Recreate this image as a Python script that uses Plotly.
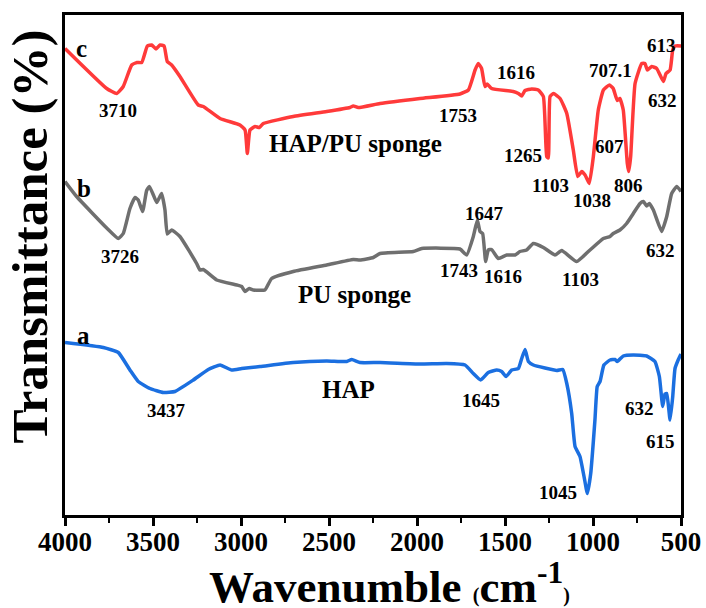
import plotly.graph_objects as go

# ---- data ----
# c: HAP/PU sponge
wn_c = [4000, 3763, 3706, 3669, 3621, 3591, 3564, 3532, 3507, 3483, 3460, 3437, 3419, 3394, 3347,
        3243, 3214, 3119, 3006, 2977, 2964, 2949, 2920, 2896, 2873, 2703, 2513, 2381, 2362, 2334,
        2210, 1983, 1756, 1708, 1670, 1652, 1633, 1614, 1601, 1576, 1453, 1424, 1405, 1386, 1348,
        1311, 1282, 1263, 1254, 1244, 1225, 1187, 1149, 1112, 1087, 1064, 1045, 1021, 998, 970,
        941, 907, 885, 862, 847, 828, 805, 797, 786, 761, 723, 705, 691, 667, 638, 600, 585, 562,
        547, 534, 500]
t_c = [93.3, 85.3, 84.3, 85.7, 90.0, 90.5, 90.5, 93.8, 94.0, 93.2, 94.0, 93.8, 90.7, 90.0, 87.7,
       82.0, 81.7, 79.3, 78.0, 77.0, 72.3, 77.0, 77.7, 77.5, 78.3, 79.7, 80.7, 81.5, 81.8, 81.5,
       82.3, 83.3, 84.2, 85.0, 89.0, 90.3, 89.3, 85.7, 86.2, 85.3, 84.7, 84.3, 83.8, 84.9, 85.2,
       85.0, 83.7, 71.7, 71.4, 83.7, 84.3, 83.3, 80.3, 73.0, 67.7, 68.7, 68.0, 66.3, 71.7, 81.0,
       85.0, 86.0, 85.3, 82.9, 83.3, 81.0, 70.3, 68.7, 71.7, 86.3, 90.3, 90.3, 89.0, 89.7, 89.3,
       86.7, 88.3, 89.0, 93.0, 93.8, 93.8]

# b: PU sponge
wn_b = [4000, 3934, 3763, 3697, 3669, 3631, 3602, 3584, 3559, 3536, 3521, 3498, 3479, 3451, 3432,
        3419, 3394, 3347, 3252, 3233, 3214, 3138, 3024, 2996, 2977, 2953, 2930, 2864, 2826, 2703,
        2513, 2362, 2324, 2248, 2210, 2021, 1973, 1756, 1718, 1680, 1657, 1642, 1627, 1610, 1595,
        1576, 1538, 1490, 1443, 1415, 1377, 1339, 1282, 1216, 1178, 1093, 1017, 941, 903, 885,
        847, 809, 771, 733, 714, 695, 680, 657, 610, 581, 553, 524, 500]
t_b = [66.7, 63.7, 57.4, 55.3, 56.3, 61.3, 63.5, 63.0, 60.7, 64.9, 65.7, 64.0, 62.5, 64.3, 61.0,
       56.2, 57.0, 55.7, 50.3, 49.0, 49.1, 47.0, 46.0, 45.7, 44.7, 45.3, 45.0, 45.0, 47.3, 48.7,
       50.0, 51.1, 51.0, 51.5, 52.3, 52.7, 53.3, 53.2, 52.0, 55.7, 59.0, 56.7, 56.3, 50.7, 53.0,
       53.1, 51.3, 52.0, 52.0, 52.7, 53.0, 54.3, 53.5, 52.0, 52.9, 50.7, 53.0, 55.3, 55.7, 56.3,
       57.0, 58.3, 60.3, 62.3, 62.7, 61.8, 62.3, 61.0, 56.7, 59.7, 64.3, 65.7, 64.7]

# a: HAP
wn_a = [4000, 3782, 3697, 3631, 3584, 3517, 3441, 3375, 3271, 3186, 3119, 3053, 2996, 2892, 2703,
        2513, 2399, 2371, 2324, 2210, 1983, 1831, 1727, 1680, 1638, 1595, 1547, 1519, 1494, 1462,
        1424, 1405, 1386, 1367, 1339, 1206, 1172, 1149, 1121, 1102, 1074, 1051, 1032, 1013, 989,
        976, 960, 938, 903, 875, 862, 828, 771, 695, 648, 623, 604, 591, 581, 562, 547, 534, 515, 500]
t_a = [34.5, 33.5, 32.5, 29.0, 26.7, 25.3, 24.5, 24.7, 27.0, 29.1, 30.0, 29.0, 29.3, 29.7, 30.5,
       30.8, 30.7, 31.1, 30.5, 30.5, 30.2, 30.3, 30.0, 28.3, 27.0, 28.5, 29.0, 28.7, 27.7, 29.0,
       29.3, 31.3, 33.1, 30.7, 30.0, 28.9, 29.1, 26.3, 20.3, 13.7, 11.7, 7.7, 4.3, 8.3, 19.0,
       25.7, 26.7, 30.0, 31.0, 31.1, 30.7, 31.8, 32.0, 31.8, 30.7, 27.7, 21.7, 24.2, 24.3, 19.0,
       23.7, 29.3, 31.1, 32.2]

# peak labels: (text, x, y)
labels_c = [("c", 3905, 93.4), ("3710", 3699, 81.0), ("1753", 1767, 80.0), ("1616", 1437, 88.5),
            ("1265", 1399, 71.9), ("1103", 1240, 66.0), ("1038", 1004, 63.0), ("607", 907, 73.7),
            ("707.1", 903, 89.0), ("806", 799, 65.9), ("613", 610, 94.0), ("632", 604, 82.9)]
labels_b = [("b", 3892, 65.3), ("3726", 3688, 51.8), ("1647", 1614, 60.3), ("1743", 1760, 48.9),
            ("1616", 1510, 47.7), ("1103", 1070, 47.1), ("632", 619, 52.9)]
labels_a = [("a", 3896, 36.0), ("3437", 3426, 21.0), ("1645", 1638, 22.9), ("1045", 1197, 4.5),
            ("632", 733, 21.3), ("615", 619, 14.7)]
names = [("HAP/PU sponge", 2352, 74.4), ("PU sponge", 2355, 44.2), ("HAP", 2390, 25.2)]

x_ticks = [4000, 3500, 3000, 2500, 2000, 1500, 1000, 500]

FONT = "Liberation Serif, Times New Roman, serif"
RED, GRAY, BLUE = "#ff3a3a", "#6f6f6f", "#1b6fe0"

fig = go.Figure()
for wn, t, col in [(wn_c, t_c, RED), (wn_b, t_b, GRAY), (wn_a, t_a, BLUE)]:
    fig.add_trace(go.Scatter(x=wn, y=t, mode="lines",
                             line=dict(color=col, width=3.5, shape="spline", smoothing=0.4),
                             showlegend=False, hoverinfo="skip"))

anns = []
for lab_list in (labels_c, labels_b, labels_a):
    for txt, x, y in lab_list:
        size = 25 if txt in ("a", "b", "c") else 19
        anns.append(dict(x=x, y=y, xref="x", yref="y", text=txt, showarrow=False,
                         font=dict(family=FONT, size=size, color="black", weight="bold")))
for txt, x, y in names:
    anns.append(dict(x=x, y=y, xref="x", yref="y", text=txt, showarrow=False,
                     font=dict(family=FONT, size=25, color="black", weight="bold")))

# axis titles
anns.append(dict(x=0.526, y=-0.136, xref="paper", yref="paper", showarrow=False,
                 text="Wavenumble <span style='font-size:20px'>(</span>cm<sup>-1</sup><span style='font-size:20px'>)</span>",
                 font=dict(family=FONT, size=45, color="black", weight="bold"),
                 xanchor="center", yanchor="middle"))
anns.append(dict(x=-0.0568, y=0.557, xref="paper", yref="paper", showarrow=False,
                 text="Transmittance (%)", textangle=-90,
                 font=dict(family=FONT, size=51, color="black", weight="bold"),
                 xanchor="center", yanchor="middle"))

fig.update_layout(
    width=706, height=608,
    margin=dict(l=65, r=25, t=15, b=93),
    paper_bgcolor="white", plot_bgcolor="white",
    annotations=anns,
    xaxis=dict(range=[4000, 500], tickvals=x_ticks, ticktext=[str(v) for v in x_ticks],
               automargin=False,
               ticks="outside", ticklen=8, tickwidth=2.5, tickcolor="black",
               ticklabelstandoff=-7,
               minor=dict(ticks="outside", ticklen=5, tickwidth=2, tickcolor="black", dtick=250, tick0=0),
               showline=True, linewidth=3, linecolor="black", mirror=True,
               showgrid=False, zeroline=False,
               tickfont=dict(family=FONT, size=27, color="black", weight="bold")),
    yaxis=dict(range=[0, 100], showticklabels=False, ticks="", automargin=False,
               showline=True, linewidth=3, linecolor="black", mirror=True,
               showgrid=False, zeroline=False),
)

fig.write_html("out.html", config={"displayModeBar": False},
               post_script="document.body.style.margin='0';document.body.style.overflow='hidden';")
